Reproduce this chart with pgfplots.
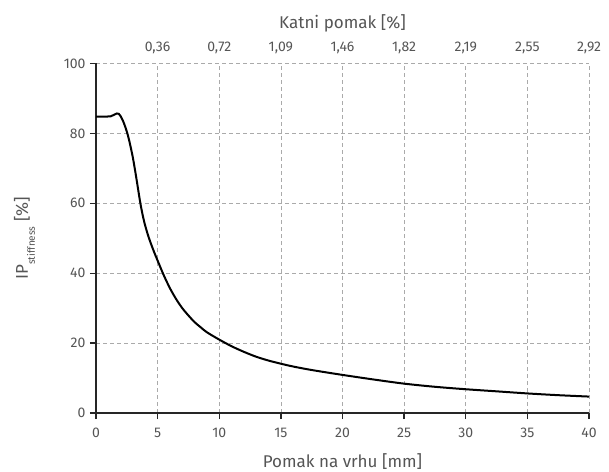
\documentclass[border=0pt]{standalone}
\usepackage{pgfplots}
\pgfplotsset{compat=1.18}
\usepackage{fontspec}
\setmainfont{Fira Sans}
\definecolor{txt}{HTML}{555555}
\definecolor{gridc}{HTML}{AAAAAA}
\begin{document}
\begin{tikzpicture}[x=1pt,y=1pt]
\path[use as bounding box] (-96,-58) rectangle (513,413);
\begin{axis}[
  at={(0,0)}, anchor=south west,
  scale only axis, width=493pt, height=349.5pt,
  xmin=0, xmax=40, ymin=0, ymax=100,
  axis x line*=bottom, axis y line*=left,
  axis line style={line width=1.3pt, color=black!85},
  xtick={0,5,...,40}, ytick={0,20,...,100},
  tick align=outside, major tick length=6pt,
  tick style={line width=1.3pt, color=black!85},
  grid=major,
  major grid style={dash pattern=on 4pt off 3pt, color=gridc, line width=0.7pt},
  /pgf/number format/assume math mode=true,
  ticklabel style={font=\fontsize{14}{16}\selectfont, text=txt},
  xticklabel style={anchor=base, yshift=-18pt},
  yticklabel style={xshift=-1pt},
  xlabel={Pomak na vrhu [mm]},
  ylabel={IP\raisebox{-7pt}{\fontsize{10}{11}\selectfont stiffness} [\%]},
  xlabel style={font=\fontsize{17}{19}\selectfont, text=txt, at={(axis description cs:0.5,0)}, anchor=base, yshift=-54pt},
  ylabel style={font=\fontsize{17}{19}\selectfont, text=txt, at={(axis description cs:-0.145,0.5)}, anchor=center},
  clip=false,
]
\addplot[black, line width=2pt, smooth] coordinates {
(0,84.8) (0.6,84.8) (1.2,84.9) (1.45,85.3) (1.7,85.7) (1.85,85.6) (2.0,84.9)
(2.2,83.5) (2.4,81.6) (2.6,79.3) (2.8,76.3) (3.0,72.9) (3.2,68.8) (3.4,64.4)
(3.6,60.0) (3.8,56.4) (4.0,53.5) (4.2,51.1) (4.4,49.0) (4.7,46.2) (5.0,43.6)
(5.5,39.4) (6.0,35.7) (6.5,32.6) (7.0,30.0) (7.5,27.9) (8.0,26.0) (8.5,24.5)
(9.0,23.1) (10,21.0) (11,19.1) (12,17.5) (13,16.1) (14,15.0) (15,14.1)
(16,13.3) (17.5,12.3) (20,10.9) (22.5,9.6) (25,8.4) (27.5,7.5) (30,6.8)
(32.5,6.2) (35,5.6) (37.5,5.1) (40,4.7)
};
\end{axis}
\begin{axis}[
  at={(0,0)}, anchor=south west,
  scale only axis, width=493pt, height=349.5pt,
  xmin=0, xmax=40, ymin=0, ymax=100,
  axis x line*=top, axis y line=none,
  axis line style={draw=none},
  xtick={5,10,...,40},
  xticklabels={{0,36},{0,72},{1,09},{1,46},{1,82},{2,19},{2,55},{2,92}},
  major tick length=0pt,
  ticklabel style={font=\fontsize{14}{16}\selectfont, text=txt},
  xticklabel style={anchor=base, yshift=11.8pt},
  xlabel={Katni pomak [\%]},
  xlabel style={font=\fontsize{17}{19}\selectfont, text=txt, at={(axis description cs:0.5,1)}, anchor=base, yshift=35pt},
]
\end{axis}
\end{tikzpicture}
\end{document}
